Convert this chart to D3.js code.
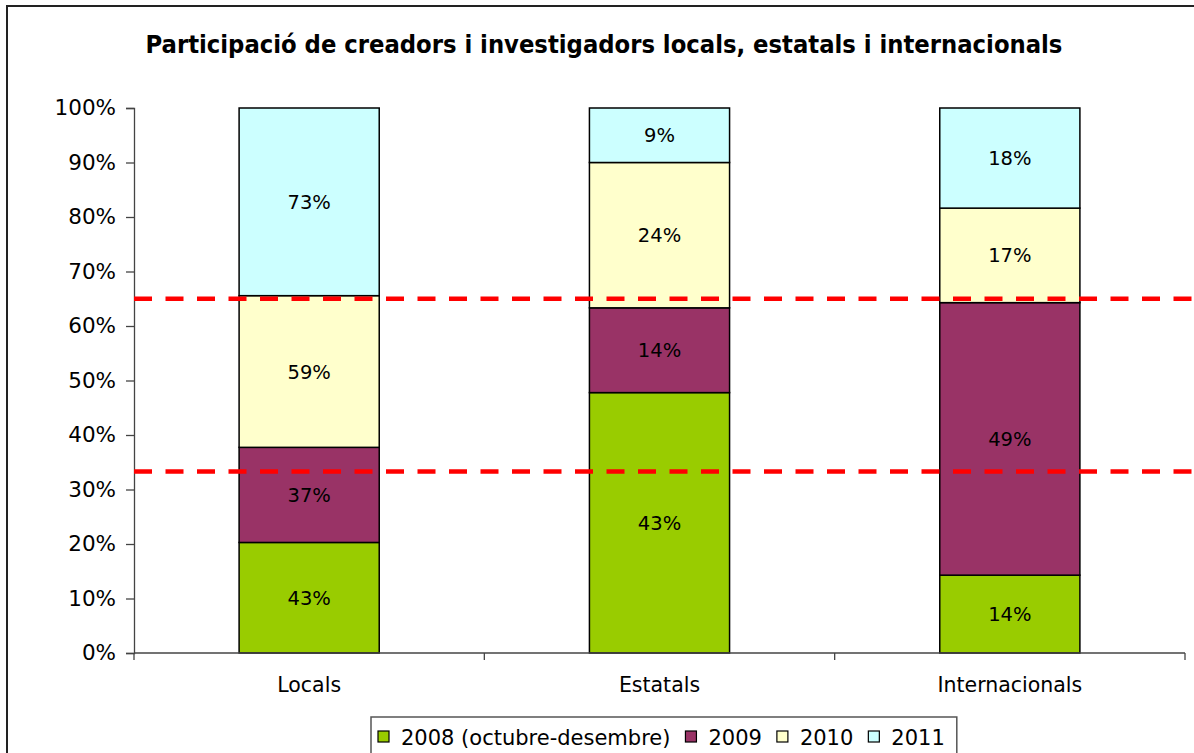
<!DOCTYPE html>
<html>
<head>
<meta charset="utf-8">
<script src="https://cdn.jsdelivr.net/npm/d3@7"></script>
<style>
  body { margin: 0; background: #fff; }
  svg { display: block; font-family: "DejaVu Sans", Verdana, sans-serif; }
</style>
</head>
<body>
<div id="container"></div>
<script>
// data (label values; bars are normalised to 100%)
const categories = ["Locals", "Estatals", "Internacionals"]
const seriesNames = ["2008 (octubre-desembre)", "2009", "2010", "2011"]
const values2008 = [43, 43, 14]
const values2009 = [37, 14, 49]
const values2010 = [59, 24, 17]
const values2011 = [73, 9, 18]
const seriesColors = ["#99cc00", "#993366", "#ffffcc", "#ccffff"]
const yTicks = [0, 0.1, 0.2, 0.3, 0.4, 0.5, 0.6, 0.7, 0.8, 0.9, 1]
const refLines = [0.333, 0.65]

let width = 1194
let height = 753
let margin = {top: 108, right: 9, bottom: 100, left: 134}

let rows = categories.map((c, i) => ({
    name: c,
    s0: values2008[i],
    s1: values2009[i],
    s2: values2010[i],
    s3: values2011[i]
}))
let keys = ["s0", "s1", "s2", "s3"]

let stacked = d3.stack()
    .keys(keys)
    .offset(d3.stackOffsetExpand)(rows)

let svg = d3.select("#container")
    .append("svg")
    .attr("width", width)
    .attr("height", height)

// chart frame
svg.append("path")
    .attr("d", `M7,${height + 5} V6 H${width + 5}`)
    .attr("fill", "none")
    .attr("stroke", "#222")
    .attr("stroke-width", 2)

svg.append("text")
    .attr("x", 604)
    .attr("y", 53)
    .attr("text-anchor", "middle")
    .attr("font-family", "'DejaVu Sans Condensed', 'DejaVu Sans', sans-serif")
    .attr("font-weight", "bold")
    .attr("font-size", 25.3)
    .attr("fill", "#000")
    .text("Participació de creadors i investigadors locals, estatals i internacionals")

let x = d3.scaleBand()
    .domain(categories)
    .range([margin.left, width - margin.right])
    .paddingInner(0.6)
    .paddingOuter(0.3)

let y = d3.scaleLinear()
    .domain([0, 1])
    .range([height - margin.bottom, margin.top])

// bars
let layers = svg.append("g")
    .selectAll("g")
    .data(stacked)
    .join("g")
    .attr("fill", (d, i) => seriesColors[i])

layers.selectAll("rect")
    .data(d => d)
    .join("rect")
    .attr("x", d => x(d.data.name))
    .attr("y", d => y(d[1]))
    .attr("width", x.bandwidth())
    .attr("height", d => y(d[0]) - y(d[1]))
    .attr("stroke", "#000")
    .attr("stroke-width", 1.5)

// value labels
layers.each(function(layer) {
    d3.select(this).selectAll("text")
        .data(layer)
        .join("text")
        .attr("x", d => x(d.data.name) + x.bandwidth() / 2)
        .attr("y", d => (y(d[0]) + y(d[1])) / 2)
        .attr("dy", "0.36em")
        .attr("text-anchor", "middle")
        .attr("font-size", 19.5)
        .attr("fill", "#000")
        .text(d => d.data[layer.key] + "%")
})

// y axis
svg.append("g")
    .attr("transform", `translate(${margin.left},0)`)
    .call(d3.axisLeft(y).tickValues(yTicks).tickFormat(d3.format(".0%")).tickSize(8).tickPadding(10))
    .call(g => g.selectAll("line, path").attr("stroke", "#444").attr("stroke-width", 1.3))
    .call(g => g.selectAll("text").attr("font-size", 21.5).attr("fill", "#000").attr("font-family", "'DejaVu Sans', sans-serif"))

// x axis with ticks between categories
let xAxis = svg.append("g")
    .attr("transform", `translate(0,${height - margin.bottom})`)

xAxis.append("line")
    .attr("x1", margin.left)
    .attr("x2", width - margin.right)
    .attr("stroke", "#444")
    .attr("stroke-width", 1.3)

let step = x.step()
let bounds = d3.range(categories.length + 1).map(i => margin.left + i * step)
xAxis.selectAll(".tk")
    .data(bounds)
    .join("line")
    .attr("class", "tk")
    .attr("x1", d => d)
    .attr("x2", d => d)
    .attr("y1", 0)
    .attr("y2", 7)
    .attr("stroke", "#444")
    .attr("stroke-width", 1.3)

xAxis.selectAll(".lbl")
    .data(categories)
    .join("text")
    .attr("class", "lbl")
    .attr("x", d => x(d) + x.bandwidth() / 2)
    .attr("y", 39)
    .attr("text-anchor", "middle")
    .attr("font-size", 20.5)
    .attr("fill", "#000")
    .text(d => d)

// red dashed reference lines
svg.append("g")
    .selectAll("line")
    .data(refLines)
    .join("line")
    .attr("x1", margin.left)
    .attr("x2", width + 10)
    .attr("y1", d => y(d))
    .attr("y2", d => y(d))
    .attr("stroke", "#ff0000")
    .attr("stroke-width", 4.5)
    .attr("stroke-dasharray", "18,13.5")

// legend
let legend = svg.append("g")
let legendBox = legend.append("rect")
    .attr("x", 371)
    .attr("y", 717)
    .attr("height", 50)
    .attr("fill", "#fff")
    .attr("stroke", "#555")
    .attr("stroke-width", 1.5)

let lx = 378
seriesNames.forEach((name, i) => {
    legend.append("rect")
        .attr("x", lx)
        .attr("y", 731)
        .attr("width", 11)
        .attr("height", 11)
        .attr("fill", seriesColors[i])
        .attr("stroke", "#000")
        .attr("stroke-width", 1.2)
    let t = legend.append("text")
        .attr("x", lx + 23)
        .attr("y", 745)
        .attr("font-size", 21)
        .attr("fill", "#000")
        .text(name)
    lx = lx + 23 + t.node().getComputedTextLength() + 15
})
legendBox.attr("width", lx - 371 - 3)
</script>
</body>
</html>
